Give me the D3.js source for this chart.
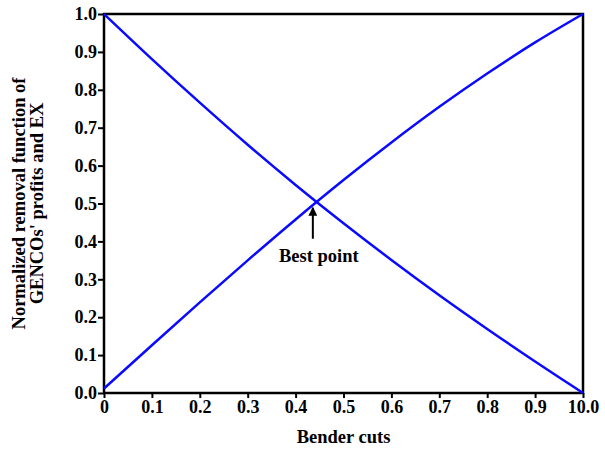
<!DOCTYPE html>
<html>
<head>
<meta charset="utf-8">
<script src="https://cdn.jsdelivr.net/npm/d3@7"></script>
<style>
  body { margin: 0; background: #fff; }
</style>
</head>
<body>
<div id="chart"></div>
<script>
// values
const cuts = [0, 0.1, 0.2, 0.3, 0.4, 0.5, 0.6, 0.7, 0.8, 0.9, 1.0];
const profits = [1.0, 0.881, 0.766, 0.655, 0.549, 0.448, 0.351, 0.258, 0.169, 0.083, 0.0];
const exValues = [0.012, 0.126, 0.239, 0.35, 0.458, 0.562, 0.661, 0.755, 0.843, 0.925, 1.0];
const xTickLabels = ["0", "0.1", "0.2", "0.3", "0.4", "0.5", "0.6", "0.7", "0.8", "0.9", "10.0"];
const yTicks = [0, 0.1, 0.2, 0.3, 0.4, 0.5, 0.6, 0.7, 0.8, 0.9, 1.0];
const bestPoint = { x: 0.436, y: 0.502, label: "Best point" };

const FONT = "'Liberation Serif'";
const W = 605, H = 459;
const margin = { top: 14, right: 22, bottom: 66, left: 104 };
const iw = W - margin.left - margin.right;
const ih = H - margin.top - margin.bottom;

const svg = d3.select("#chart").append("svg")
  .attr("width", W)
  .attr("height", H);

const g = svg.append("g")
  .attr("transform", "translate(" + margin.left + "," + margin.top + ")");

const x = d3.scaleLinear().domain([0, 1]).range([0, iw]);
const y = d3.scaleLinear().domain([0, 1]).range([ih, 0]);

// axes
const xAxis = g.append("g")
  .attr("transform", "translate(0," + ih + ")")
  .call(d3.axisBottom(x).tickValues(cuts).tickSize(5).tickPadding(2)
    .tickFormat((d, i) => xTickLabels[i]));

const yAxis = g.append("g")
  .call(d3.axisLeft(y).tickValues(yTicks).tickSize(6).tickPadding(1)
    .tickFormat(d3.format(".1f")));

[xAxis, yAxis].forEach(a => {
  a.attr("font-family", null).attr("font-size", null);
  a.select(".domain").remove();
  a.selectAll(".tick line").attr("stroke", "#000").attr("stroke-width", 2);
  a.selectAll(".tick text")
    .style("font-family", FONT)
    .style("font-weight", "bold")
    .style("font-size", "18px")
    .attr("fill", "#000");
});

// frame
g.append("rect")
  .attr("width", iw)
  .attr("height", ih)
  .attr("fill", "none")
  .attr("stroke", "#000")
  .attr("stroke-width", 2.5);

// lines
const line = d3.line()
  .x((d, i) => x(cuts[i]))
  .y(d => y(d))
  .curve(d3.curveMonotoneX);

[profits, exValues].forEach(s => {
  g.append("path")
    .datum(s)
    .attr("d", line)
    .attr("fill", "none")
    .attr("stroke", "#0a0aff")
    .attr("stroke-width", 2.5);
});

// annotation
svg.append("defs").append("marker")
  .attr("id", "arrow")
  .attr("viewBox", "0 0 10 10")
  .attr("refX", 9).attr("refY", 5)
  .attr("markerWidth", 5).attr("markerHeight", 4.5)
  .attr("orient", "auto")
  .append("path")
  .attr("d", "M0,0L10,5L0,10Z")
  .attr("fill", "#000");

g.append("line")
  .attr("x1", x(bestPoint.x)).attr("x2", x(bestPoint.x))
  .attr("y1", y(bestPoint.y) + 36).attr("y2", y(bestPoint.y) + 5)
  .attr("stroke", "#000")
  .attr("stroke-width", 2)
  .attr("marker-end", "url(#arrow)");

g.append("text")
  .attr("x", x(bestPoint.x) + 6)
  .attr("y", y(bestPoint.y) + 59)
  .attr("text-anchor", "middle")
  .style("font-family", FONT)
  .style("font-weight", "bold")
  .style("font-size", "18.5px")
  .text(bestPoint.label);

// axis titles
svg.append("text")
  .attr("x", margin.left + iw / 2)
  .attr("y", 443)
  .attr("text-anchor", "middle")
  .style("font-family", FONT)
  .style("font-weight", "bold")
  .style("font-size", "18.5px")
  .text("Bender cuts");

const yTitle = svg.append("text")
  .attr("transform", "translate(25," + (margin.top + ih / 2) + ") rotate(-90)")
  .attr("text-anchor", "middle")
  .style("font-family", FONT)
  .style("font-weight", "bold")
  .style("font-size", "18.5px");
yTitle.append("tspan").attr("x", 0).attr("dy", 0).text("Normalized removal function of");
yTitle.append("tspan").attr("x", 0).attr("dy", 18).text("GENCOs' profits and EX");
</script>
</body>
</html>
